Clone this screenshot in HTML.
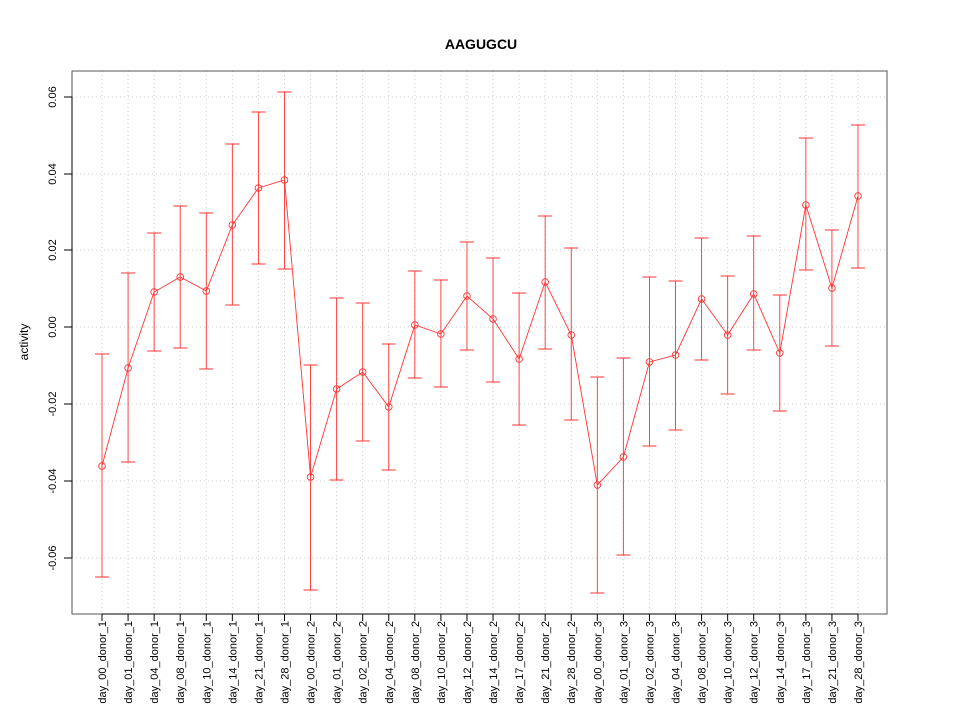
<!DOCTYPE html>
<html><head><meta charset="utf-8"><style>body{margin:0;background:#fff}svg{display:block}</style></head><body>
<svg id="s" width="960" height="720" xmlns="http://www.w3.org/2000/svg" font-family="Liberation Sans, sans-serif">
<rect width="960" height="720" fill="#fff"/>
<text x="481" y="49" font-size="14" font-weight="bold" text-anchor="middle">AAGUGCU</text>
<text transform="translate(28,342) rotate(-90)" font-size="12" text-anchor="middle">activity</text>
<g id="grid" stroke="#ccc" stroke-dasharray="1,3" stroke-width="1"></g>
<g id="data"></g>
<rect x="72" y="71" width="815" height="543" fill="none" stroke="#555" stroke-width="1"/>
<g id="ax" stroke="#000"></g>
</svg>
<script>
const d=[[466,354,577],[368,273,462],[292,233,351],[277,206,348],[291,213,369],[225,144,305],[188,112,264],[180,92,269],[477,365,590],[389,298,480],[372,303,441],[407,344,470],[325,271,378],[334,280,387],[296,242,350],[319,258,382],[359,293,425],[282,216,349],[335,248,420],[485,377,593],[457,358,555],[362,277,446],[355,281,430],[299,238,360],[335,276,394],[294,236,350],[353,295,411],[205,138,270],[288,230,346],[196,125,268]];
const days=["00","01","04","08","10","14","21","28"];
const l=["00","01","02","04","08","10","12","14","17","21","28"];
const L=days.map(x=>"day_"+x+"_donor_1").concat(l.map(x=>"day_"+x+"_donor_2")).concat(l.map(x=>"day_"+x+"_donor_3"));
const X=i=>102+i*756/29;
let g="",dt="",ax="",tx="";
for(let i=0;i<30;i++){const x=X(i);g+=`<line x1="${x}" y1="71" x2="${x}" y2="614"/>`;
ax+=`<line x1="${x}" y1="614" x2="${x}" y2="621"/>`;
tx+=`<text transform="translate(${x+4},621) rotate(-90)" font-size="11" text-anchor="end">${L[i]}</text>`;}
const yt=[[97,"0.06"],[174,"0.04"],[250,"0.02"],[327,"0.00"],[404,"-0.02"],[481,"-0.04"],[558,"-0.06"]];
yt.forEach(([y,t])=>{g+=`<line x1="72" y1="${y}" x2="887" y2="${y}"/>`;ax+=`<line x1="64" y1="${y}" x2="72" y2="${y}"/>`;
tx+=`<text transform="translate(56,${y}) rotate(-90)" font-size="11" text-anchor="middle">${t}</text>`;});
let pts=d.map((v,i)=>X(i)+","+v[0]).join(" ");
dt+=`<polyline points="${pts}" fill="none" stroke="#f33" stroke-width="0.9"/>`;
d.forEach((v,i)=>{const x=X(i);dt+=`<line x1="${x}" y1="${v[1]}" x2="${x}" y2="${v[2]}" stroke="#f33" stroke-width="0.9"/><line x1="${x-7}" y1="${v[1]}" x2="${x+7}" y2="${v[1]}" stroke="#f33"/><line x1="${x-7}" y1="${v[2]}" x2="${x+7}" y2="${v[2]}" stroke="#f33"/><circle cx="${x}" cy="${v[0]}" r="3.3" fill="none" stroke="#f33" stroke-width="0.9"/>`;});
document.getElementById("grid").innerHTML=g;document.getElementById("data").innerHTML=dt;
document.getElementById("ax").innerHTML=ax+`<line x1="72" y1="97" x2="72" y2="558"/><line x1="102" y1="614" x2="858" y2="614"/>`;
document.getElementById("s").insertAdjacentHTML("beforeend",tx);
</script>
</body></html>
